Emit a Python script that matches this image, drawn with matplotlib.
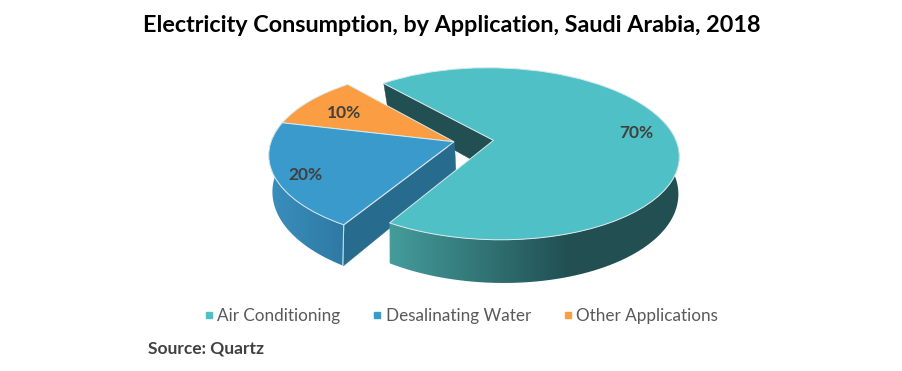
import numpy as np
import matplotlib
matplotlib.use("Agg")
import matplotlib.pyplot as plt
from matplotlib.collections import PolyCollection
from matplotlib.lines import Line2D
from matplotlib.patches import Polygon
from matplotlib.transforms import Transform
from matplotlib.colors import LinearSegmentedColormap

plt.rcParams['font.family'] = ['Lato', 'DejaVu Sans']

title = "Electricity Consumption, by Application, Saudi Arabia, 2018"
source = "Source: Quartz"
categories = ["Air Conditioning", "Desalinating Water", "Other Applications"]
shares = [70, 20, 10]
colors = ["#4FC1C6", "#3A9ACB", "#FB9D42"]


class Persp(Transform):
    """Tilted-disc projection: unit pie coordinates to pixel-like data."""
    input_dims = output_dims = 2
    is_separable = False
    has_inverse = False

    def __init__(self, cx, cy, a, b, k):
        super().__init__()
        self.p = (cx, cy, a, b, k)

    def transform_non_affine(self, xy):
        xy = np.asarray(xy, float)
        cx, cy, a, b, k = self.p
        w = 1 + k * xy[:, 1]
        return np.column_stack([cx + a * xy[:, 0] / w, cy - b * xy[:, 1] / w])


CX = 454
top = Persp(CX, 141.8, 183, 84.4, 0.156)
bot = Persp(CX + 1.5, 173.5, 179.5, 89.8, 0.197)

start = 130.5
explode = [0.217, 0, 0]

fig = plt.figure(figsize=(9.02, 3.71), dpi=100)
ax = fig.add_axes([0, 0, 1, 1])

wedges, _, autotexts = ax.pie(shares, colors=colors, startangle=start, counterclock=False,
                              explode=explode, radius=1, autopct='%d%%', pctdistance=0.8,
                              wedgeprops=dict(edgecolor="#DCE9EC", linewidth=0.7))

# angular extent of each slice, derived from the values
fr = np.array(shares) / sum(shares)
ends = start - 360 * np.cumsum(fr)
starts = ends + 360 * fr
mids = (starts + ends) / 2
offs = [np.array([e * np.cos(np.radians(m)), e * np.sin(np.radians(m))]) for e, m in zip(explode, mids)]


def pt(theta, r=1.0, off=(0, 0)):
    t = np.atleast_1d(np.radians(theta))
    return np.column_stack([off[0] + r * np.cos(t), off[1] + r * np.sin(t)])


def cut_wall(i, theta, color, z):
    o = offs[i]
    quad = np.vstack([top.transform(pt(theta, 1, o)), top.transform(pt(theta, 0, o)),
                      bot.transform(pt(theta, 0, o)), bot.transform(pt(theta, 1, o))])
    ax.add_collection(PolyCollection([quad], facecolors=color, edgecolors=color, linewidths=0.3, zorder=z))


def rim_wall(i, a0, a1, x0, x1, c0, c1, z):
    """Outer wall of a slice, shaded left to right from c0 at x0 to c1 at x1."""
    o = offs[i]
    th = np.linspace(a0, a1, 120)
    outline = np.vstack([top.transform(pt(th, 1, o)), bot.transform(pt(th[::-1], 1, o))])
    clip = Polygon(outline, closed=True, transform=ax.transData, fc='none', ec='none')
    ax.add_patch(clip)
    cmap = LinearSegmentedColormap.from_list("wall", [c0, c1])
    im = ax.imshow(np.linspace(0, 1, 256)[None, :], cmap=cmap, extent=(x0, x1, 300, 100),
                   aspect='auto', zorder=z, interpolation='bilinear')
    im.set_clip_path(clip)
    # pad the ramp beyond its ends with the end colours
    lo, hi = outline[:, 0].min(), outline[:, 0].max()
    if hi > x1:
        ax.imshow(np.ones((1, 2)), cmap=LinearSegmentedColormap.from_list("e", [c1, c1]),
                  extent=(x1 - 0.5, hi + 1, 300, 100), aspect='auto', zorder=z).set_clip_path(clip)
    if lo < x0:
        ax.imshow(np.ones((1, 2)), cmap=LinearSegmentedColormap.from_list("e", [c0, c0]),
                  extent=(lo - 1, x0 + 0.5, 300, 100), aspect='auto', zorder=z).set_clip_path(clip)


# draw order: back wall of the exploded slice, small slices, their walls, big slice
cut_wall(0, starts[0], "#214F52", 1)
wedges[2].set_zorder(2)
rim_wall(1, ends[1], starts[1], 271, 345, "#3A8EBC", "#2E79A3", 3)
cut_wall(1, starts[1], "#276C8F", 3)
edge = np.vstack([top.transform(pt(starts[1])), bot.transform(pt(starts[1]))])
ax.plot(edge[:, 0], edge[:, 1], color="#C4DCE6", lw=0.8, zorder=5)
wedges[1].set_zorder(4)
rim_wall(0, ends[0], 14, 389, 570, "#459C9C", "#214F52", 5)
wedges[0].set_zorder(6)

for w in wedges:
    w.set_transform(top + ax.transData)
    w.set_clip_on(False)

label_r = [0.80, 0.85, 0.73]
label_dtheta = [1.5, 3, 2]
for i, t in enumerate(autotexts):
    m = np.radians(mids[i] + label_dtheta[i])
    t.set_position((offs[i][0] + label_r[i] * np.cos(m), offs[i][1] + label_r[i] * np.sin(m)))
    t.set_transform(top + ax.transData)
    t.set(fontsize=12.5, fontweight='bold', color="#404040", zorder=7, ha='center', va='center')

ax.set_aspect('auto')
ax.set_xlim(0, 902)
ax.set_ylim(371, 0)
ax.axis('off')

handles = [Line2D([], [], marker='s', ls='none', mfc=c, mec=c, ms=4.2) for c in colors]
ax.legend(handles, categories, loc='center', bbox_to_anchor=(460, 316), bbox_transform=ax.transData,
          ncol=3, frameon=False, fontsize=12.3, labelcolor="#595959", handlelength=0.8, handletextpad=0.1,
          columnspacing=1.75, borderpad=0, borderaxespad=0)

ax.text(451.5, 25, title, ha='center', va='center', fontsize=16.85, fontweight='bold', color='black')
ax.text(148, 349, source, ha='left', va='center', fontsize=12.5, fontweight='bold', color="#404040")

fig.savefig("out.png", dpi=100)
